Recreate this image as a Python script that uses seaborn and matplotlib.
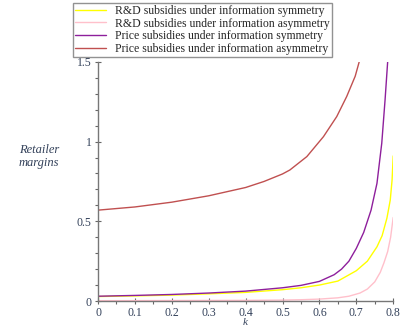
import matplotlib
matplotlib.use("Agg")
import matplotlib.pyplot as plt
import seaborn as sns
from matplotlib.ticker import MultipleLocator, FixedLocator

sns.set_theme(style="white")
plt.rcParams['font.family'] = ['Liberation Serif', 'DejaVu Serif']

labels = ["R&D subsidies under information symmetry",
          "R&D subsidies under information asymmetry",
          "Price subsidies under information symmetry",
          "Price subsidies under information asymmetry"]
colors = ["#ffff00", "#ffc0cb", "#8e1f9c", "#c05050"]

rd_sym_k = [0, 0.1, 0.2, 0.3, 0.4, 0.5, 0.55, 0.6, 0.65, 0.7, 0.73, 0.756, 0.77, 0.783, 0.792, 0.797, 0.8]
rd_sym_v = [0.028, 0.032, 0.037, 0.045, 0.054, 0.071, 0.083, 0.100, 0.125, 0.19, 0.25, 0.34, 0.41, 0.52, 0.633, 0.76, 0.91]

rd_asym_k = [0, 0.2, 0.4, 0.5, 0.55, 0.6, 0.65, 0.68, 0.71, 0.73, 0.75, 0.765, 0.775, 0.785, 0.793, 0.8]
rd_asym_v = [0.002, 0.003, 0.004, 0.006, 0.008, 0.012, 0.02, 0.03, 0.05, 0.075, 0.12, 0.18, 0.24, 0.31, 0.40, 0.524]

pr_sym_k = [0, 0.1, 0.2, 0.3, 0.4, 0.5, 0.55, 0.6, 0.64, 0.66, 0.68, 0.7, 0.72, 0.74, 0.756, 0.769, 0.778, 0.786]
pr_sym_v = [0.030, 0.035, 0.041, 0.05, 0.062, 0.083, 0.098, 0.123, 0.165, 0.2, 0.25, 0.33, 0.43, 0.57, 0.738, 0.99, 1.263, 1.535]

pr_asym_k = [0, 0.1, 0.2, 0.3, 0.4, 0.45, 0.5, 0.52, 0.566, 0.611, 0.647, 0.674, 0.697, 0.712]
pr_asym_v = [0.570, 0.590, 0.620, 0.660, 0.712, 0.750, 0.797, 0.822, 0.906, 1.031, 1.157, 1.283, 1.41, 1.535]

series = [(rd_sym_k, rd_sym_v), (rd_asym_k, rd_asym_v), (pr_sym_k, pr_sym_v), (pr_asym_k, pr_asym_v)]

fig = plt.figure(figsize=(4.0, 3.28), dpi=100)
ax = fig.add_axes([0.245, 0.0823, 0.738, 0.729])

for (kk, vv), lab, col in zip(series, labels, colors):
    sns.lineplot(x=kk, y=vv, ax=ax, color=col, label=lab, linewidth=1.0, legend=False)

ax.set_xlim(0, 0.8)
ax.set_ylim(0, 1.5)
for s in ["top", "right"]:
    ax.spines[s].set_visible(False)
for s in ["left", "bottom"]:
    ax.spines[s].set_color("#777777")
    ax.spines[s].set_linewidth(1.0)
ax.set_facecolor("white")
fig.patch.set_facecolor("white")

ax.xaxis.set_major_locator(FixedLocator([0, 0.1, 0.2, 0.3, 0.4, 0.5, 0.6, 0.7, 0.8]))
ax.set_xticklabels(["0", "0.1", "0.2", "0.3", "0.4", "0.5", "0.6", "0.7", "0.8"])
ax.xaxis.set_minor_locator(MultipleLocator(0.05))
ax.yaxis.set_major_locator(FixedLocator([0, 0.5, 1, 1.5]))
ax.set_yticklabels(["0", "0.5", "1", "1.5"])
ax.yaxis.set_minor_locator(MultipleLocator(0.1))
ax.tick_params(which="major", direction="inout", length=5, width=0.8, color="#666666",
               labelsize=8.5, labelcolor="#33415a", bottom=True, left=True, pad=2)
ax.tick_params(which="minor", direction="out", length=2.5, width=0.8, color="#666666", bottom=True, left=True)

ax.set_xlabel("k", fontsize=8, style="italic", color="#33415a", va="top")
ax.xaxis.set_label_coords(0.5, -0.073)
ax.set_ylabel("Retailer\nmargins", fontsize=9, style="italic", color="#33415a",
              rotation=0, labelpad=0)
ax.yaxis.set_label_coords(-0.2, 0.55)

handles = ax.get_lines()
leg = fig.legend(handles[:4], labels, loc="upper left", bbox_to_anchor=(0.182, 0.992),
                 fontsize=8.5, frameon=True, fancybox=False, borderpad=0.2,
                 handlelength=2.6, handletextpad=0.8, labelspacing=0.05,
                 borderaxespad=0)
leg.get_frame().set_edgecolor("#777777")
leg.get_frame().set_linewidth(1.0)

fig.savefig("out.png", dpi=100)
